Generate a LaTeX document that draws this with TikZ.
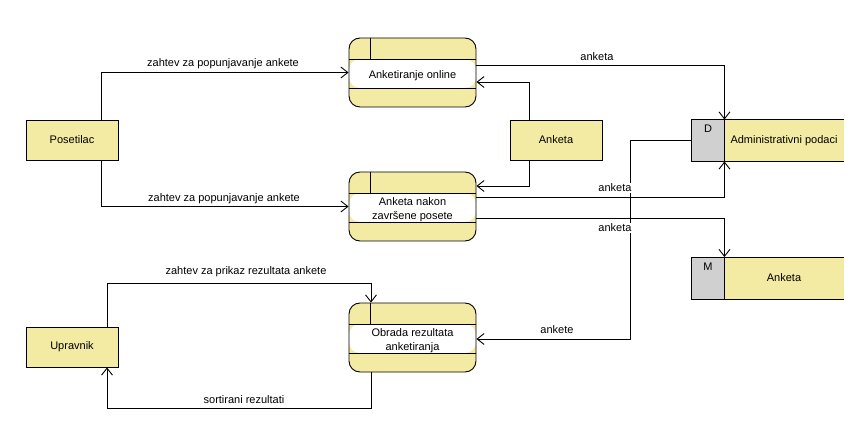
\documentclass[tikz,border=0pt]{standalone}
\usepackage{fontspec}
\setmainfont{Liberation Sans}
\usetikzlibrary{arrows.meta,calc}
\definecolor{dfdyellow}{RGB}{243,234,163}
\definecolor{dfdgray}{RGB}{208,208,208}
\begin{document}
\begin{tikzpicture}[x=1pt,y=-1pt,
  font=\fontsize{11}{13.5}\selectfont,
  line width=0.9pt,
  proc/.style={draw, rounded corners=11pt, minimum width=127pt, minimum height=69pt,
    inner sep=0pt, align=center, fill=dfdyellow,
    path picture={
      \fill[white] ($(path picture bounding box.north west)+(0,21)$) rectangle ($(path picture bounding box.north east)+(0,50)$);
      \draw ($(path picture bounding box.north west)+(0,21)$) -- ($(path picture bounding box.north east)+(0,21)$);
      \draw ($(path picture bounding box.north west)+(0,50)$) -- ($(path picture bounding box.north east)+(0,50)$);
      \draw ($(path picture bounding box.north west)+(21,0)$) -- ($(path picture bounding box.north west)+(21,21)$);
    }},
  ent/.style={draw, fill=dfdyellow, minimum width=92pt, minimum height=40pt, inner sep=0pt},
  tag/.style={fill=dfdgray, minimum width=32pt, minimum height=41pt, inner sep=0pt},
  store/.style={fill=dfdyellow, minimum width=120pt, minimum height=41pt, inner sep=0pt},
  flow/.style={draw, -{Straight Barb[length=7pt,width=11pt,line width=0.9pt]}},
  lbl/.style={fill=white, inner sep=1pt}
]
\useasboundingbox (0,0) rectangle (866,435);

% processes
\node[proc] (online) at (412.5,72.5) {\\[1pt]Anketiranje online};
\node[proc] (nakon) at (412.5,206.5) {\\[1pt]Anketa nakon\\ završene posete};
\node[proc] (obrada) at (412.5,337.5) {\\[1pt]Obrada rezultata\\ anketiranja};

% external entities
\node[ent] (pos) at (72,140) {Posetilac};
\node[ent] (ank) at (556,140) {Anketa};
\node[ent] (upr) at (72,347) {Upravnik};

% data stores
\node[tag] (dtag) at (708,140.5) {};
\node[store] (admin) at (784,140.5) {Administrativni podaci};
\node at (708,129) {D};
\draw (admin.north east) -- (dtag.north west) -- (dtag.south west) -- (admin.south east);
\draw (dtag.north east) -- (dtag.south east);

\node[tag] (mtag) at (708,278) {};
\node[store] (mstore) at (784,278) {Anketa};
\node at (708,267) {M};
\draw (mstore.north east) -- (mtag.north west) -- (mtag.south west) -- (mstore.south east);
\draw (mtag.north east) -- (mtag.south east);

% flows
\draw[flow] ($(pos.north)+(29,0)$) |- (online.west);
\node[lbl] at (223,64) {zahtev za popunjavanje ankete};

\draw[flow] ($(pos.south)+(29,0)$) |- (nakon.west);
\node[lbl] at (224,199) {zahtev za popunjavanje ankete};

\draw[flow] ($(online.east)+(0,-7.5)$) -| (dtag.north east);
\node[lbl] at (597,57) {anketa};

\draw[flow] ($(ank.north)+(-27,0)$) |- ($(online.east)+(0,9.5)$);
\draw[flow] ($(ank.south)+(-27,0)$) |- ($(nakon.east)+(0,-20.5)$);

\draw[flow] (dtag.west) -- ++(-61,0) |- ($(obrada.east)+(0,1.5)$);
\node[lbl] at (557,330) {ankete};

\draw[flow] ($(nakon.east)+(0,-9.5)$) -| (dtag.south east);
\node[lbl] at (615,188) {anketa};

\draw[flow] ($(nakon.east)+(0,11.5)$) -| (mtag.north east);
\node[lbl] at (615,228) {anketa};

\draw[flow] ($(upr.north)+(35,0)$) -- ++(0,-43) -| ($(obrada.north)+(-41.5,0)$);
\node[lbl] at (246,272) {zahtev za prikaz rezultata ankete};

\draw[flow] ($(obrada.south)+(-41.5,0)$) -- ++(0,36) -| ($(upr.south)+(35,0)$);
\node[lbl] at (244,400) {sortirani rezultati};
\end{tikzpicture}
\end{document}
